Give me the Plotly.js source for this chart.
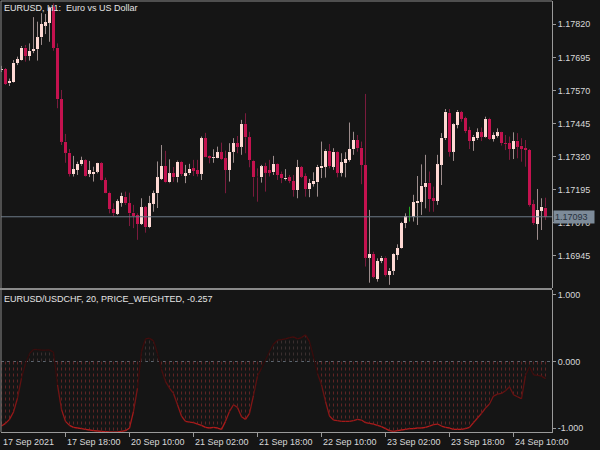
<!DOCTYPE html>
<html><head><meta charset="utf-8">
<script src="https://cdn.plot.ly/plotly-3.0.1.min.js"></script>
<style>html,body{margin:0;padding:0;background:#151515;}#chart{width:600px;height:450px;}</style>
</head><body><div id="chart"></div>
<script>
const symbolTitle = 'EURUSD, H1:\u00a0 Euro vs US Dollar';
const indicatorName = 'EURUSD/USDCHF, 20, PRICE_WEIGHTED';
const timeLabels = ['17 Sep 2021','17 Sep 18:00','20 Sep 10:00','21 Sep 02:00','21 Sep 18:00','22 Sep 10:00','23 Sep 02:00','23 Sep 18:00','24 Sep 10:00'];
const barsPerLabel = 16;
const priceTicks = [1.17820,1.17695,1.17570,1.17445,1.17320,1.17195,1.17070,1.16945];
const corrTicks = [1,0,-1];

const open = [
1.17646,1.17651,1.17597,1.17602,1.17674,1.17685,1.17732,1.17700,1.17719,1.17726,
1.17771,1.17815,1.17826,1.17884,1.17732,1.17537,1.17377,1.17335,1.17255,1.17270,
1.17291,1.17307,1.17256,1.17255,1.17264,1.17295,1.17232,1.17184,1.17122,1.17104,
1.17146,1.17169,1.17144,1.17109,1.17100,1.17066,1.17129,1.17054,1.17142,1.17182,
1.17236,1.17285,1.17223,1.17257,1.17242,1.17301,1.17247,1.17257,1.17277,1.17270,
1.17255,1.17390,1.17324,1.17316,1.17316,1.17337,1.17314,1.17270,1.17339,1.17371,
1.17358,1.17444,1.17393,1.17305,1.17245,1.17242,1.17283,1.17270,1.17261,1.17293,
1.17255,1.17235,1.17242,1.17228,1.17194,1.17280,1.17247,1.17197,1.17217,1.17223,
1.17276,1.17282,1.17343,1.17282,1.17339,1.17260,1.17295,1.17308,1.17348,1.17383,
1.17354,1.17288,1.16939,1.16953,1.16858,1.16926,1.16939,1.16873,1.16890,1.16949,
1.16974,1.17069,1.17100,1.17094,1.17144,1.17150,1.17207,1.17222,1.17163,1.17153,
1.17289,1.17390,1.17486,1.17339,1.17440,1.17488,1.17465,1.17421,1.17379,1.17390,
1.17412,1.17396,1.17463,1.17387,1.17399,1.17412,1.17371,1.17371,1.17349,1.17381,
1.17362,1.17352,1.17345,1.17140,1.17066,1.17115,1.17128];
const high = [
1.17663,1.17655,1.17615,1.17685,1.17698,1.17738,1.17742,1.17748,1.17847,1.17830,
1.17862,1.17859,1.17887,1.17899,1.17748,1.17572,1.17406,1.17349,1.17323,1.17301,
1.17320,1.17310,1.17304,1.17282,1.17297,1.17299,1.17241,1.17188,1.17144,1.17159,
1.17184,1.17188,1.17184,1.17138,1.17106,1.17163,1.17134,1.17172,1.17192,1.17302,
1.17364,1.17342,1.17310,1.17281,1.17305,1.17304,1.17289,1.17293,1.17308,1.17308,
1.17396,1.17410,1.17326,1.17348,1.17358,1.17373,1.17343,1.17371,1.17390,1.17398,
1.17459,1.17484,1.17414,1.17308,1.17276,1.17289,1.17297,1.17308,1.17323,1.17295,
1.17264,1.17273,1.17251,1.17251,1.17308,1.17285,1.17257,1.17236,1.17261,1.17289,
1.17377,1.17348,1.17368,1.17352,1.17342,1.17333,1.17337,1.17449,1.17414,1.17402,
1.17377,1.17557,1.17119,1.16961,1.16936,1.16945,1.16943,1.16899,1.16955,1.16989,
1.17074,1.17106,1.17131,1.17176,1.17247,1.17291,1.17327,1.17264,1.17207,1.17327,
1.17409,1.17500,1.17500,1.17446,1.17496,1.17493,1.17471,1.17433,1.17402,1.17427,
1.17430,1.17471,1.17467,1.17412,1.17427,1.17414,1.17402,1.17396,1.17412,1.17409,
1.17390,1.17383,1.17349,1.17157,1.17198,1.17163,1.17165];
const low = [
1.17640,1.17591,1.17587,1.17600,1.17666,1.17683,1.17679,1.17683,1.17711,1.17683,
1.17742,1.17783,1.17754,1.17720,1.17503,1.17364,1.17297,1.17245,1.17245,1.17251,
1.17286,1.17245,1.17243,1.17226,1.17257,1.17230,1.17182,1.17106,1.17096,1.17100,
1.17131,1.17138,1.17058,1.17050,1.17006,1.17062,1.17033,1.17050,1.17112,1.17126,
1.17232,1.17220,1.17220,1.17225,1.17223,1.17247,1.17220,1.17251,1.17247,1.17245,
1.17232,1.17318,1.17295,1.17297,1.17314,1.17308,1.17182,1.17226,1.17297,1.17333,
1.17327,1.17333,1.17280,1.17169,1.17150,1.17222,1.17188,1.17245,1.17251,1.17232,
1.17220,1.17230,1.17220,1.17169,1.17163,1.17239,1.17169,1.17167,1.17207,1.17169,
1.17239,1.17241,1.17276,1.17270,1.17242,1.17245,1.17242,1.17301,1.17327,1.17339,
1.17216,1.16905,1.16844,1.16861,1.16848,1.16918,1.16867,1.16836,1.16873,1.16930,
1.16972,1.17050,1.17075,1.17075,1.17062,1.17100,1.17125,1.17112,1.17112,1.17138,
1.17213,1.17383,1.17320,1.17304,1.17427,1.17452,1.17409,1.17349,1.17342,1.17383,
1.17379,1.17392,1.17383,1.17377,1.17392,1.17362,1.17345,1.17308,1.17311,1.17314,
1.17301,1.17282,1.17131,1.17062,1.17006,1.17043,1.17081];
const close = [
1.17651,1.17595,1.17606,1.17675,1.17688,1.17732,1.17700,1.17720,1.17726,1.17771,
1.17821,1.17828,1.17881,1.17732,1.17537,1.17377,1.17335,1.17255,1.17273,1.17293,
1.17307,1.17248,1.17269,1.17264,1.17295,1.17232,1.17184,1.17122,1.17106,1.17152,
1.17172,1.17144,1.17106,1.17096,1.17066,1.17129,1.17054,1.17144,1.17182,1.17242,
1.17285,1.17223,1.17257,1.17242,1.17301,1.17255,1.17257,1.17274,1.17267,1.17255,
1.17390,1.17320,1.17316,1.17320,1.17337,1.17311,1.17270,1.17339,1.17371,1.17358,
1.17444,1.17393,1.17308,1.17242,1.17242,1.17283,1.17260,1.17260,1.17293,1.17251,
1.17239,1.17241,1.17228,1.17194,1.17280,1.17245,1.17198,1.17220,1.17230,1.17282,
1.17286,1.17343,1.17285,1.17339,1.17260,1.17299,1.17311,1.17349,1.17383,1.17352,
1.17289,1.16939,1.16953,1.16867,1.16926,1.16939,1.16873,1.16890,1.16952,1.16974,
1.17069,1.17095,1.17100,1.17148,1.17153,1.17211,1.17222,1.17160,1.17153,1.17291,
1.17392,1.17490,1.17339,1.17442,1.17490,1.17463,1.17417,1.17379,1.17396,1.17412,
1.17396,1.17463,1.17387,1.17402,1.17412,1.17371,1.17367,1.17349,1.17379,1.17358,
1.17349,1.17345,1.17138,1.17069,1.17119,1.17131,1.17093];
const corr = [
-0.97,-0.93,-0.87,-0.76,-0.55,-0.25,-0.03,0.12,0.18,0.18,
0.17,0.17,0.175,0.14,-0.35,-0.72,-0.90,-0.96,-0.99,-1.00,
-1.01,-1.02,-1.03,-1.04,-1.045,-1.05,-1.055,-1.06,-1.06,-1.06,
-1.05,-1.04,-1.00,-0.75,-0.40,0.15,0.34,0.35,0.31,0.12,
-0.12,-0.30,-0.40,-0.48,-0.65,-0.82,-0.90,-0.91,-0.92,-0.94,
-0.96,-0.99,-1.00,-0.99,-1.00,-1.02,-0.90,-0.75,-0.65,-0.69,
-0.83,-0.87,-0.78,-0.51,-0.22,-0.10,0.02,0.15,0.26,0.32,
0.33,0.34,0.36,0.37,0.34,0.36,0.40,0.30,0.07,-0.18,
-0.35,-0.60,-0.82,-0.88,-0.89,-0.90,-0.90,-0.90,-0.89,-0.87,
-0.88,-0.92,-0.93,-0.94,-0.96,-0.98,-1.01,-1.04,-1.05,-1.04,
-1.03,-1.02,-1.01,-1.01,-1.00,-1.00,-0.99,-0.97,-0.95,-0.94,
-0.97,-0.99,-1.00,-1.02,-1.02,-1.02,-1.01,-0.99,-0.92,-0.85,
-0.78,-0.70,-0.64,-0.52,-0.49,-0.48,-0.44,-0.38,-0.50,-0.53,
-0.56,-0.21,-0.08,-0.20,-0.21,-0.22,-0.257];

const BULL_BODY='#FFD9D4', BEAR_BODY='#C4124F', BULL_WICK='#9C8C8C', BEAR_WICK='#7A1B3D', DOJI='#22A522';
const FONT='Liberation Sans, Arial, sans-serif';
const n = open.length;
const idx = open.map((_, i) => i);
const minBody = 0.00003;

const bodyBase=[], bodyLen=[], bodyCol=[];
const wk = {bull:{x:[],y:[]}, bear:{x:[],y:[]}, doji:{x:[],y:[]}};
function seg(t,i,a,b){ if (b>a){ t.x.push(i,i,null); t.y.push(a,b,null);} }
for (let i=0;i<n;i++){
  const o=open[i], c=close[i], lo=Math.min(o,c), hi=Math.max(o,c);
  if (o===c){ bodyBase.push(null); bodyLen.push(null); bodyCol.push(DOJI); seg(wk.doji,i,low[i],high[i]); continue; }
  const len=Math.max(hi-lo,minBody);
  bodyBase.push(lo-(len-(hi-lo))/2); bodyLen.push(len);
  const t = c>o ? wk.bull : wk.bear;
  bodyCol.push(c>o?BULL_BODY:BEAR_BODY);
  seg(t,i,hi,high[i]); seg(t,i,low[i],lo);
}
const traces=[];
traces.push({type:'scatter',mode:'lines',x:wk.bull.x,y:wk.bull.y,line:{color:BULL_WICK,width:1},xaxis:'x',yaxis:'y',hoverinfo:'skip'});
traces.push({type:'scatter',mode:'lines',x:wk.bear.x,y:wk.bear.y,line:{color:BEAR_WICK,width:1},xaxis:'x',yaxis:'y',hoverinfo:'skip'});
traces.push({type:'scatter',mode:'lines',x:wk.doji.x,y:wk.doji.y,line:{color:DOJI,width:1},xaxis:'x',yaxis:'y',hoverinfo:'skip'});
traces.push({type:'bar',x:idx,y:bodyLen,base:bodyBase,width:0.75,marker:{color:bodyCol,line:{width:0}},xaxis:'x',yaxis:'y',hoverinfo:'skip'});

// histogram (dotted)
const hn={x:[],y:[]}, hp={x:[],y:[]};
corr.forEach((v,i)=>{ const t=v<0?hn:hp; t.x.push(i,i,null); t.y.push(0,v,null); });
traces.push({type:'scatter',mode:'lines',x:hn.x,y:hn.y,line:{color:'#5e2424',width:1,dash:'dot'},xaxis:'x',yaxis:'y2',hoverinfo:'skip'});
traces.push({type:'scatter',mode:'lines',x:hp.x,y:hp.y,line:{color:'#3a2f2f',width:1,dash:'dot'},xaxis:'x',yaxis:'y2',hoverinfo:'skip'});
function corrColor(v){
  if (v<0){ const t=Math.min(1,-v); const r=Math.round(40+140*t), g=Math.round(10+18*t); return `rgb(${r},${g},${g})`; }
  const t=Math.min(1,v); return `rgb(${Math.round(45+70*t)},12,12)`;
}
for (let i=0;i<n-1;i++){
  traces.push({type:'scatter',mode:'lines',x:[i,i+1],y:[corr[i],corr[i+1]],line:{color:corrColor((corr[i]+corr[i+1])/2),width:1.3},xaxis:'x',yaxis:'y2',hoverinfo:'skip'});
}

const W=600,H=450,mL=1,mR=48,mT=1,mB=18;
const plotH=H-mT-mB, plotW=W-mL-mR;
const py = p => (H-mB-p)/plotH;
const px = p => (p-mL)/plotW;
const barPx = 4;
const xr = [-0.5/barPx, plotW/barPx-0.5/barPx];
const tickIdx = timeLabels.map((_,k)=>k*barsPerLabel);
const axisCol='#9a9a9a', textCol='#d8d8d8';
const yCommon = {side:'right',showgrid:false,zeroline:false,showline:true,linecolor:axisCol,linewidth:1,ticks:'outside',ticklen:3,tickcolor:axisCol,tickfont:{family:FONT,size:9,color:textCol},fixedrange:true};
const lastClose = close[n-1];
const annotations = [
  {xref:'paper',yref:'paper',x:px(3),y:py(8),xanchor:'left',yanchor:'middle',text:symbolTitle,showarrow:false,font:{family:FONT,size:9,color:'#e4e4e4'},borderpad:0},
  {xref:'paper',yref:'paper',x:px(3),y:py(298.5),xanchor:'left',yanchor:'middle',text:indicatorName+', '+corr[n-1].toFixed(3),showarrow:false,font:{family:FONT,size:9,color:'#e4e4e4'},borderpad:0},
  {xref:'paper',yref:'y',x:1,xshift:1,y:lastClose,xanchor:'left',yanchor:'middle',text:lastClose.toFixed(5),showarrow:false,bgcolor:'#7d8b99',font:{family:FONT,size:9,color:'#26323e'},borderpad:1,width:38,align:'left'}
];
timeLabels.forEach((t,k)=>annotations.push({xref:'x',yref:'paper',x:tickIdx[k],y:py(441.5),xanchor:'left',yanchor:'middle',text:t,showarrow:false,font:{family:FONT,size:9,color:textCol},borderpad:0}));
const shapes = [
  {type:'line',xref:'paper',yref:'y',x0:0,x1:1,y0:lastClose,y1:lastClose,line:{color:'#6c7a88',width:1},layer:'above'},
  {type:'line',xref:'paper',yref:'y2',x0:0,x1:1,y0:0,y1:0,line:{color:'#5c6670',width:1,dash:'dot'},layer:'below'},
  {type:'rect',xref:'paper',yref:'paper',x0:-0.002,x1:1,y0:py(290),y1:py(288),fillcolor:'#8a8a8a',line:{width:0},layer:'above'},
  {type:'line',xref:'paper',yref:'paper',x0:0,x1:0,y0:0,y1:1,line:{color:'#8a8a8a',width:1},layer:'above'},
  {type:'line',xref:'paper',yref:'paper',x0:0,x1:1,y0:1,y1:1,line:{color:'#8a8a8a',width:1},layer:'above'}
];
const layout = {
  width:W,height:H,paper_bgcolor:'#151515',plot_bgcolor:'#151515',
  margin:{l:mL,r:mR,t:mT,b:mB,pad:0},showlegend:false,hovermode:false,bargap:0,
  xaxis:{range:xr,anchor:'y2',showgrid:false,zeroline:false,showline:true,linecolor:axisCol,linewidth:1,tickvals:tickIdx.slice(1),ticks:'outside',ticklen:4,tickcolor:axisCol,showticklabels:false,fixedrange:true},
  yaxis:Object.assign({},yCommon,{domain:[py(288),1],range:[1.16824,1.17908],tickvals:priceTicks,ticktext:priceTicks.map(v=>v.toFixed(5))}),
  yaxis2:Object.assign({},yCommon,{domain:[0,py(290)],range:[-1.06,1.075],tickvals:corrTicks,ticktext:corrTicks.map(v=>v.toFixed(3))}),
  shapes:shapes,annotations:annotations
};
Plotly.newPlot('chart',traces,layout,{staticPlot:true,displayModeBar:false});
</script></body></html>
